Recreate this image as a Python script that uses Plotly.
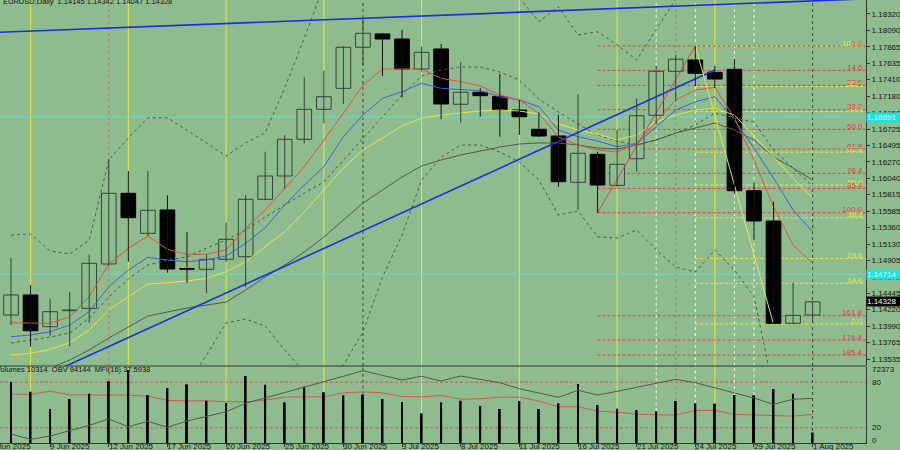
import plotly.graph_objects as go
import pandas as pd

# ---------------- data ----------------
dates = ["2025-06-05", "2025-06-06", "2025-06-09", "2025-06-10", "2025-06-11", "2025-06-12", "2025-06-13",
         "2025-06-16", "2025-06-17", "2025-06-18", "2025-06-19", "2025-06-20",
         "2025-06-23", "2025-06-24", "2025-06-25", "2025-06-26", "2025-06-27", "2025-06-30",
         "2025-07-01", "2025-07-02", "2025-07-03", "2025-07-04",
         "2025-07-07", "2025-07-08", "2025-07-09", "2025-07-10", "2025-07-11",
         "2025-07-14", "2025-07-15", "2025-07-16", "2025-07-17", "2025-07-18",
         "2025-07-21", "2025-07-22", "2025-07-23", "2025-07-24", "2025-07-25",
         "2025-07-28", "2025-07-29", "2025-07-30", "2025-07-31", "2025-08-01"]

open_ = [1.14145, 1.14423, 1.13983, 1.14205, 1.14238, 1.14853, 1.15833, 1.15278, 1.15602, 1.14790,
         1.14779, 1.14918, 1.14954, 1.15750, 1.16073, 1.16582, 1.16998, 1.17289, 1.17858, 1.18043,
         1.17973, 1.17557, 1.17835, 1.17068, 1.17234, 1.17173, 1.16988, 1.16721, 1.16628, 1.15986,
         1.16374, 1.15944, 1.16313, 1.16915, 1.17525, 1.17682, 1.17511, 1.17553, 1.15869, 1.15449,
         1.14030, 1.14145]
high = [1.14936, 1.14561, 1.14377, 1.14469, 1.14987, 1.16305, 1.16142, 1.16142, 1.15805, 1.15296,
        1.14987, 1.15425, 1.15810, 1.16410, 1.16642, 1.17442, 1.17534, 1.17876, 1.18265, 1.18050,
        1.18098, 1.17867, 1.17904, 1.17650, 1.17290, 1.17488, 1.17127, 1.16951, 1.16919, 1.17210,
        1.16410, 1.16711, 1.17151, 1.17599, 1.17751, 1.17876, 1.17603, 1.17696, 1.15980, 1.15717,
        1.14593, 1.14342]
low = [1.14007, 1.13706, 1.13858, 1.13715, 1.14038, 1.14825, 1.14885, 1.15241, 1.14732, 1.14593,
       1.14446, 1.14880, 1.14538, 1.15740, 1.15893, 1.16527, 1.16804, 1.17072, 1.17613, 1.17460,
       1.17165, 1.17520, 1.16864, 1.16818, 1.16896, 1.16618, 1.16642, 1.16614, 1.15925, 1.15602,
       1.15564, 1.15921, 1.16133, 1.16781, 1.17118, 1.17321, 1.17294, 1.15833, 1.15186, 1.14020,
       1.14020, 1.14047]
close = [1.14423, 1.13927, 1.14191, 1.14215, 1.14862, 1.15833, 1.15495, 1.15597, 1.14783, 1.14780,
         1.14918, 1.15195, 1.15750, 1.16073, 1.16582, 1.16998, 1.17173, 1.17858, 1.18052, 1.17973,
         1.17557, 1.17789, 1.17072, 1.17234, 1.17187, 1.16988, 1.16895, 1.16628, 1.15994, 1.16388,
         1.15948, 1.16236, 1.16909, 1.17525, 1.17692, 1.17498, 1.17418, 1.15869, 1.15449, 1.14030,
         1.14140, 1.14328]

ma_red = [1.14038, 1.14030, 1.14030, 1.14121, 1.14399, 1.14852, 1.15070, 1.15241, 1.15056, 1.14987,
          1.14987, 1.15047, 1.15348, 1.15601, 1.15902, 1.16202, 1.16572, 1.16943, 1.17335, 1.17557,
          1.17557, 1.17557, 1.17428, 1.17381, 1.17321, 1.17196, 1.17127, 1.16943, 1.16614, 1.16503,
          1.16434, 1.16406, 1.16526, 1.16826, 1.17127, 1.17266, 1.17303, 1.16877, 1.16295, 1.15647,
          1.15116, 1.14862]
ma_blue = [1.13844, 1.13868, 1.13913, 1.14006, 1.14191, 1.14538, 1.14769, 1.14945, 1.14908, 1.14884,
           1.14908, 1.14963, 1.15139, 1.15356, 1.15671, 1.15948, 1.16202, 1.16618, 1.16919, 1.17151,
           1.17242, 1.17359, 1.17289, 1.17275, 1.17256, 1.17173, 1.17127, 1.17034, 1.16711, 1.16618,
           1.16558, 1.16479, 1.16526, 1.16757, 1.16988, 1.17103, 1.17173, 1.16850, 1.16461, 1.16045,
           1.15601, 1.15300]
ma_yellow = [1.13590, 1.13614, 1.13669, 1.13761, 1.13937, 1.14214, 1.14399, 1.14575, 1.14593, 1.14617,
             1.14654, 1.14746, 1.14884, 1.15092, 1.15300, 1.15574, 1.15879, 1.16184, 1.16434, 1.16600,
             1.16766, 1.16877, 1.16919, 1.16947, 1.16974, 1.16988, 1.16974, 1.16933, 1.16794, 1.16711,
             1.16655, 1.16572, 1.16642, 1.16826, 1.16919, 1.16988, 1.17012, 1.16919, 1.16628, 1.16323,
             1.16045, 1.15768]
ma_long = [1.13216, 1.13313, 1.13410, 1.13521, 1.13660, 1.13826, 1.13979, 1.14131, 1.14187, 1.14242,
           1.14284, 1.14325, 1.14492, 1.14672, 1.14838, 1.15019, 1.15227, 1.15463, 1.15698, 1.15879,
           1.16059, 1.16212, 1.16295, 1.16364, 1.16420, 1.16475, 1.16517, 1.16531, 1.16531, 1.16503,
           1.16461, 1.16447, 1.16503, 1.16572, 1.16669, 1.16739, 1.16808, 1.16711, 1.16572, 1.16336,
           1.16184, 1.16017]
bb_mid = [1.13757, 1.13798, 1.13840, 1.13895, 1.14103, 1.14395, 1.14644, 1.14838, 1.14908, 1.14949,
          1.15074, 1.15185, 1.15324, 1.15504, 1.15671, 1.15837, 1.15990, 1.16295, 1.16600, 1.16891,
          1.17196, 1.17460, 1.17543, 1.17585, 1.17585, 1.17515, 1.17404, 1.17141, 1.16961, 1.16794,
          1.16642, 1.16558, 1.16503, 1.16572, 1.16669, 1.16780, 1.16947, 1.16877, 1.16822, 1.16434,
          1.16184, 1.15934]
bb_up = [1.15255, 1.15268, 1.15033, 1.14991, 1.15185, 1.16295, 1.16600, 1.16881, 1.16881, 1.16711,
         1.16531, 1.16350, 1.16531, 1.16673, 1.17293, 1.17987, 1.18708, 1.19138, 1.19124, 1.19152,
         1.19027, 1.18902, 1.18750, 1.18667, 1.18667, 1.18625, 1.18542, 1.18213, 1.18421, 1.18029,
         1.18074, 1.17890, 1.17682, 1.18098, 1.18528, 1.18819, 1.18847, 1.18986, 1.19249, 1.19762,
         1.19832, 1.19624]
bb_low = [1.12259, 1.12328, 1.12647, 1.12800, 1.13022, 1.12494, 1.12689, 1.12800, 1.12938, 1.13188,
          1.13590, 1.14034, 1.14090, 1.13992, 1.13660, 1.13354, 1.13271, 1.13451, 1.13909, 1.14672,
          1.15255, 1.16017, 1.16336, 1.16503, 1.16503, 1.16406, 1.16267, 1.16017, 1.15532, 1.15587,
          1.15227, 1.15213, 1.15324, 1.15047, 1.14811, 1.14741, 1.15047, 1.14769, 1.14395, 1.13105,
          1.12536, 1.12245]

volume = [60450, 50840, 33700, 43600, 48860, 61140, 72373, 47570, 54500, 58170,
          41920, 39640, 66400, 57770, 40330, 55790, 50240, 47270, 47870, 43600,
          40630, 29430, 40330, 41920, 36670, 33690, 41620, 33690, 39340, 58470,
          37660, 33990, 32700, 31410, 41620, 39340, 38950, 47570, 47270, 53510,
          48860, 10314]
obv = [-263000, -316000, -283000, -230000, -176000, -113000, -190000, -136000, -196000, -133000,
       -90000, -40000, 44000, 97000, 150000, 204000, 257000, 314000, 370000, 324000,
       277000, 314000, 267000, 317000, 284000, 250000, 190000, 147000, 104000, 174000,
       127000, 164000, 204000, 237000, 284000, 250000, 197000, 147000, 97000, 34000,
       84000, 94144]
mfi = [64.3, 63.9, 68.2, 63.3, 63.3, 63.3, 63.0, 61.6, 56.0, 55.5,
       55.5, 54.2, 54.2, 56.4, 60.3, 60.7, 60.7, 66.0, 67.3, 66.0,
       61.2, 60.7, 62.6, 57.7, 58.1, 60.3, 60.3, 55.1, 47.6, 47.6,
       42.0, 40.3, 38.0, 37.1, 36.7, 42.9, 42.9, 37.6, 36.7, 36.7,
       35.4, 37.5938]

price_ticks = [1.18320, 1.18090, 1.17865, 1.17635, 1.17410, 1.17180, 1.16950, 1.16725, 1.16495,
               1.16270, 1.16040, 1.15815, 1.15585, 1.15360, 1.15130, 1.14905, 1.14675, 1.14445,
               1.14220, 1.13990, 1.13765, 1.13535]
xtick_labels = ["4 Jun 2025", "9 Jun 2025", "12 Jun 2025", "17 Jun 2025", "20 Jun 2025", "25 Jun 2025",
                "30 Jun 2025", "3 Jul 2025", "8 Jul 2025", "11 Jul 2025", "16 Jul 2025", "21 Jul 2025",
                "24 Jul 2025", "29 Jul 2025", "1 Aug 2025"]

# trend lines (bar index, price)
trend_long_x = [-1, 44]
trend_long_y = [1.18062, 1.18533]
trend_up_x = [2, 36]
trend_up_y = [1.13337, 1.17542]

cyan_levels = [1.16891, 1.14714]

fib_red_dates = ("2025-07-17", "2025-07-24")      # low -> high
fib_yellow_dates = ("2025-07-24", "2025-07-30")   # high -> low
fib_red_levels = [0.0, 14.6, 23.6, 38.2, 50.0, 61.8, 76.4, 85.4, 100.0, 161.8, 176.4, 185.4]
fib_yellow_levels = [0.0, 14.6, 23.6, 38.2, 50.0, 61.8, 76.4, 85.4, 100.0]

red_dot_dates = ["2025-06-12", "2025-07-23"]
white_dot_dates = ["2025-07-22", "2025-07-24", "2025-07-28", "2025-07-29"]
gray_dot_dates = ["2025-07-01", "2025-08-01"]

# ---------------- style / layout constants ----------------
BG = "#8FBC8F"
FONT = "Liberation Sans"
INK = "#151515"
FRAME = "#333833"
PLOT_W = 866
X_RANGE = [-0.563, 43.73]
Y_RANGE = [1.13438, 1.18514]
MAIN_DOMAIN = [0.1738, 1.0]
IND_DOMAIN = [0.0, 0.1716]
VOL_TOP = 75347
OBV_RANGE = [-352856, 407144]
RED = "#e0503a"
FIB_RED = "#e04040"
FIB_YEL = "#e6e64c"
YEL = "#e6e64c"
BLUE = "#3f62dc"
GRAY = "#4a5d4a"

n = len(dates)
xi = list(range(n))
pos = {d: i for i, d in enumerate(dates)}
bull = [c >= o for o, c in zip(open_, close)]
last = n - 1
yellow_idx = [i for i, d in enumerate(dates) if pd.Timestamp(d).weekday() == 4 and i != last]
px_per_bar = PLOT_W / (X_RANGE[1] - X_RANGE[0])

fig = go.Figure()

# Bollinger bands
for s in (bb_up, bb_mid, bb_low):
    fig.add_trace(go.Scatter(x=xi, y=s, mode="lines", line=dict(color=GRAY, width=1, dash="dot"),
                             hoverinfo="skip"))
fig.add_trace(go.Scatter(x=xi, y=ma_long, mode="lines", line=dict(color=GRAY, width=1)))
fig.add_trace(go.Scatter(x=xi, y=ma_yellow, mode="lines", line=dict(color=YEL, width=1)))
fig.add_trace(go.Scatter(x=xi, y=ma_blue, mode="lines", line=dict(color=BLUE, width=1)))
fig.add_trace(go.Scatter(x=xi, y=ma_red, mode="lines", line=dict(color=RED, width=1)))

# trend lines
fig.add_trace(go.Scatter(x=trend_long_x, y=trend_long_y, mode="lines", line=dict(color="#1a30dc", width=1.6)))
fig.add_trace(go.Scatter(x=trend_up_x, y=trend_up_y, mode="lines", line=dict(color="#1a30dc", width=1.6)))

# fibonacci diagonals
ra, rb = pos[fib_red_dates[0]], pos[fib_red_dates[1]]
ya, yb = pos[fib_yellow_dates[0]], pos[fib_yellow_dates[1]]
red_lo, red_hi = low[ra], high[rb]
yel_hi, yel_lo = high[ya], low[yb]
fig.add_trace(go.Scatter(x=[ra, rb], y=[red_lo, red_hi], mode="lines", line=dict(color=FIB_RED, width=1)))
fig.add_trace(go.Scatter(x=[ya, yb], y=[yel_hi, yel_lo], mode="lines", line=dict(color=FIB_YEL, width=1)))

# candles: wicks
for is_bull, col in ((True, "#34443a"), (False, "#111111")):
    wx, wy = [], []
    for i in xi:
        if bull[i] == is_bull:
            wx += [i, i, None]
            wy += [low[i], high[i], None]
    fig.add_trace(go.Scatter(x=wx, y=wy, mode="lines", line=dict(color=col, width=1)))
# candles: bodies
for is_bull, fillc, linec in ((True, BG, "#34443a"), (False, "#000000", "#000000")):
    ids = [i for i in xi if bull[i] == is_bull]
    fig.add_trace(go.Bar(x=ids,
                         base=[min(open_[i], close[i]) for i in ids],
                         y=[max(abs(close[i] - open_[i]), 0.00002) for i in ids],
                         width=0.75, marker=dict(color=fillc, line=dict(color=linec, width=1)),
                         yaxis="y"))

# indicator window
fig.add_trace(go.Scatter(x=xi, y=mfi, mode="lines", line=dict(color="#cc5a48", width=1), yaxis="y2"))
fig.add_trace(go.Bar(x=xi, y=volume, width=0.1, marker=dict(color="#000000", line=dict(width=0)), yaxis="y3"))
fig.add_trace(go.Scatter(x=xi, y=obv, mode="lines", line=dict(color=GRAY, width=1), yaxis="y4"))

# ---------------- shapes ----------------
shapes = []


def vline(i, color, dash, full_ind=False):
    shapes.append(dict(type="line", xref="x", yref="y domain", x0=i, x1=i, y0=0, y1=1,
                       line=dict(color=color, width=1, dash=dash), layer="below"))
    shapes.append(dict(type="line", xref="x", yref="y3", x0=i, x1=i,
                       y0=0 if full_ind else volume[i], y1=VOL_TOP,
                       line=dict(color=color, width=1, dash=dash), layer="below"))


for i in yellow_idx:
    vline(i, "#e8e830", "solid")
for d in red_dot_dates:
    vline(pos[d], "#d06a5a", "dot")
for d in white_dot_dates:
    vline(pos[d], "#eef3ee", "dot")
for d in gray_dot_dates:
    vline(pos[d], "#3d4a3d", "dot", full_ind=(pos[d] == last))

for v in cyan_levels:
    shapes.append(dict(type="line", xref="paper", yref="y", x0=0, x1=1, y0=v, y1=v,
                       line=dict(color="#62dcd2", width=1), layer="below"))

red_prices = [red_hi - r / 100.0 * (red_hi - red_lo) for r in fib_red_levels]
yel_prices = [yel_lo + r / 100.0 * (yel_hi - yel_lo) for r in fib_yellow_levels]
for p in yel_prices:
    shapes.append(dict(type="line", xref="x", yref="y", x0=ya, x1=X_RANGE[1], y0=p, y1=p,
                       line=dict(color=FIB_YEL, width=1, dash="3px,2px"), layer="below"))
for p in red_prices:
    shapes.append(dict(type="line", xref="x", yref="y", x0=ra, x1=X_RANGE[1], y0=p, y1=p,
                       line=dict(color=FIB_RED, width=1, dash="3px,2px"), layer="below"))

for lv in (80, 20):
    shapes.append(dict(type="line", xref="paper", yref="y2", x0=0, x1=1, y0=lv, y1=lv,
                       line=dict(color="#d85050", width=1, dash="3px,2px"), layer="below"))

shapes.append(dict(type="line", xref="paper", yref="paper", x0=0, x1=1,
                   y0=MAIN_DOMAIN[0], y1=MAIN_DOMAIN[0], line=dict(color=FRAME, width=1)))

# ---------------- annotations ----------------
ann = []
f8 = dict(family=FONT, size=8, color=INK)

xtick_pos = list(range(-1, n, 3))
for p, t in zip(xtick_pos, xtick_labels):
    # labels whose bar lies left of the visible range are anchored at the range edge and shifted
    anchor = max(p, X_RANGE[0])
    shift = (p - anchor) * px_per_bar - 2
    ann.append(dict(x=anchor, xref="x", y=0, yref="paper", yanchor="top", xanchor="left", text=t,
                    showarrow=False, font=f8, xshift=shift, yshift=3))

for r, p in zip(fib_yellow_levels, yel_prices):
    ann.append(dict(x=1, xref="paper", y=p, yref="y", xanchor="right", yanchor="middle",
                    text=f"{r:.1f}", showarrow=False, font=dict(family=FONT, size=8, color=FIB_YEL),
                    yshift=3, xshift=-1))
for r, p in zip(fib_red_levels, red_prices):
    ann.append(dict(x=1, xref="paper", y=p, yref="y", xanchor="right", yanchor="middle",
                    text=f"{r:.1f}", showarrow=False, font=dict(family=FONT, size=8, color=FIB_RED),
                    yshift=3, xshift=-1))

for v in cyan_levels:
    ann.append(dict(x=1, xref="paper", y=v, yref="y", xanchor="left", yanchor="middle",
                    text=f"{v:.5f}", showarrow=False, bgcolor="#19e3e3", width=33, height=9,
                    align="left", borderpad=0, font=dict(family=FONT, size=8, color="#f4ffff")))
ann.append(dict(x=1, xref="paper", y=close[-1], yref="y", xanchor="left", yanchor="middle",
                text=f"{close[-1]:.5f}", showarrow=False, bgcolor="#000000", width=33, height=9,
                align="left", borderpad=0, font=dict(family=FONT, size=8, color="#ffffff")))

for txt, yv, yr in ((f"{max(volume)}", max(volume), "y3"), ("80", 80, "y2"), ("20", 20, "y2"), ("0", 0, "y2")):
    ann.append(dict(x=1, xref="paper", y=yv, yref=yr, xanchor="left", yanchor="middle", text=txt,
                    showarrow=False, font=f8, xshift=4, yshift=3 if txt == "0" else 0))

ann.append(dict(x=0, xref="paper", y=1, yref="paper", xanchor="left", yanchor="middle",
                text=f"EURUSD,Daily  {open_[-1]:.5f} {high[-1]:.5f} {low[-1]:.5f} {close[-1]:.5f}",
                showarrow=False, font=dict(family=FONT, size=7.5, color=INK), xshift=1, yshift=-1))
ann.append(dict(x=0, xref="paper", y=IND_DOMAIN[1], yref="paper", xanchor="left", yanchor="middle",
                text=f"Volumes {volume[-1]}  OBV {obv[-1]}  MFI(16) {mfi[-1]:.4f}",
                showarrow=False, font=dict(family=FONT, size=7.5, color=INK), xshift=-6, yshift=-3))

fig.update_layout(
    width=900, height=450, margin=dict(l=0, r=34, t=0, b=7),
    paper_bgcolor=BG, plot_bgcolor=BG, showlegend=False, barmode="overlay",
    font=f8, shapes=shapes, annotations=ann,
    xaxis=dict(domain=[0, 1], range=X_RANGE, anchor="y2", showgrid=False, zeroline=False,
               tickvals=xtick_pos, ticktext=[""] * len(xtick_pos), ticks="outside", ticklen=3,
               tickcolor=FRAME, showline=True, linecolor=FRAME, linewidth=1, fixedrange=True),
    yaxis=dict(domain=MAIN_DOMAIN, range=Y_RANGE, side="right", anchor="x", showgrid=False,
               zeroline=False, tickvals=price_ticks, ticktext=[f"{v:.5f}" for v in price_ticks],
               ticks="outside", ticklen=3, tickcolor=FRAME, showline=True, linecolor=FRAME,
               linewidth=1, tickfont=f8, automargin=False),
    yaxis2=dict(domain=IND_DOMAIN, range=[0, 100], side="right", anchor="x", showgrid=False,
                zeroline=False, showticklabels=False, ticks="", showline=True, linecolor=FRAME),
    yaxis3=dict(overlaying="y2", anchor="x", range=[0, VOL_TOP], visible=False),
    yaxis4=dict(overlaying="y2", anchor="x", range=OBV_RANGE, visible=False),
)

fig.write_html("out.html", config={"displayModeBar": False},
               post_script="document.body.style.margin='0';document.body.style.overflow='hidden';")
